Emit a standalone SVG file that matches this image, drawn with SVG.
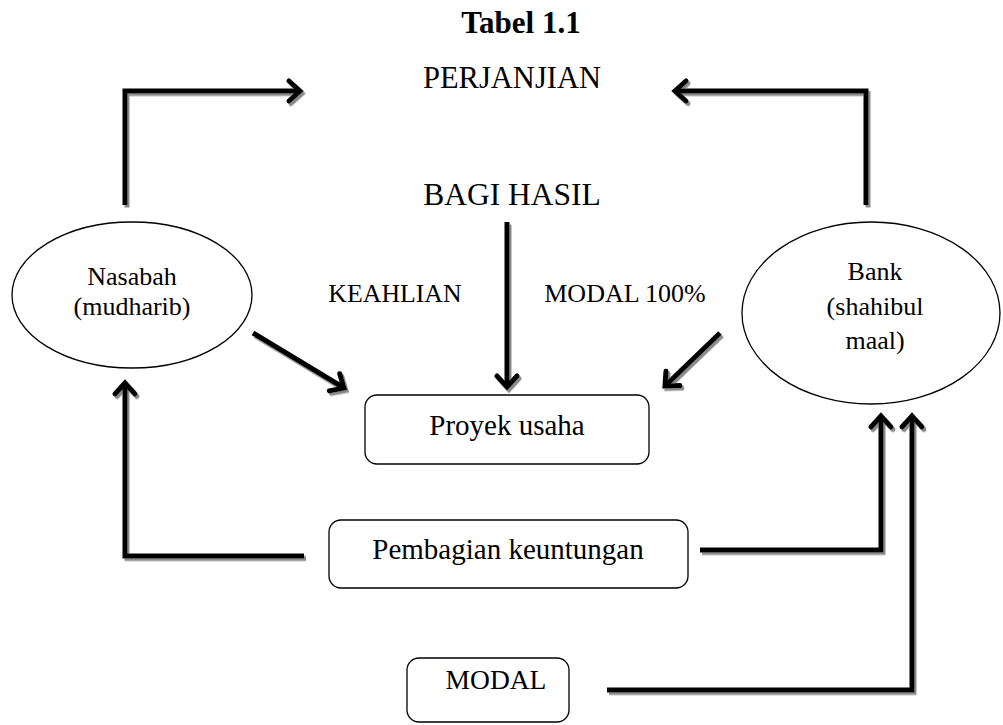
<svg xmlns="http://www.w3.org/2000/svg" width="1003" height="725" viewBox="0 0 1003 725">
<style>
text{font-family:"Liberation Serif","Times New Roman",serif;fill:#000;text-anchor:middle}
.node{fill:#fff;stroke:#000;stroke-width:1.3}
.c{fill:none;stroke:#000;stroke-width:5;stroke-linejoin:miter}
</style>
<defs>
<filter id="sh" x="-20%" y="-20%" width="140%" height="140%">
<feDropShadow dx="2" dy="2.5" stdDeviation="0.6" flood-color="#8a8a8a" flood-opacity="1"/>
</filter>
<marker id="ah" markerUnits="userSpaceOnUse" viewBox="-16 -14 20 28" markerWidth="20" markerHeight="28" refX="0" refY="0" orient="auto">
<path d="M-11,-10 L0,0 L-11,10" fill="none" stroke="#000" stroke-width="5" stroke-linecap="round" stroke-linejoin="miter"/>
</marker>
</defs>
<rect width="1003" height="725" fill="#fff"/>
<text x="521" y="33" font-size="31" font-weight="bold">Tabel 1.1</text>
<text x="512" y="88" font-size="30.5">PERJANJIAN</text>
<text x="512" y="205" font-size="31.5">BAGI HASIL</text>
<text x="395" y="302" font-size="25.8">KEAHLIAN</text>
<text x="625" y="302" font-size="26">MODAL 100%</text>
<g id="connectors" filter="url(#sh)">
<path class="c" d="M125,205 L125,91 L300,91" marker-end="url(#ah)"/>
<path class="c" d="M866,205 L866,91 L675,91" marker-end="url(#ah)"/>
<path class="c" d="M507,222 L507,387" marker-end="url(#ah)"/>
<path class="c" d="M253,333 L344,388" marker-end="url(#ah)"/>
<path class="c" d="M720,333 L665,386" marker-end="url(#ah)"/>
<path class="c" d="M304,556 L125,556 L125,383" marker-end="url(#ah)"/>
<path class="c" d="M700,550 L881,550 L881,416" marker-end="url(#ah)"/>
<path class="c" d="M607,690 L912,690 L912,416" marker-end="url(#ah)"/>
</g>
<g id="nasabah">
<ellipse class="node" cx="132" cy="295" rx="120" ry="73"/>
<text x="132" y="285" font-size="26">Nasabah</text>
<text x="132" y="315" font-size="26">(mudharib)</text>
</g>
<g id="bank">
<ellipse class="node" cx="871" cy="313" rx="129" ry="91"/>
<text x="875" y="280" font-size="26">Bank</text>
<text x="875" y="315" font-size="26">(shahibul</text>
<text x="875" y="349" font-size="26">maal)</text>
</g>
<g id="proyek">
<rect class="node" x="365" y="395" width="284" height="69" rx="12"/>
<text x="507" y="435" font-size="29">Proyek usaha</text>
</g>
<g id="pembagian">
<rect class="node" x="329" y="520" width="359" height="68" rx="12"/>
<text x="508" y="559" font-size="29">Pembagian keuntungan</text>
</g>
<g id="modal">
<rect class="node" x="407" y="658" width="162" height="64" rx="12"/>
<text x="496" y="689" font-size="27.5">MODAL</text>
</g>
</svg>
